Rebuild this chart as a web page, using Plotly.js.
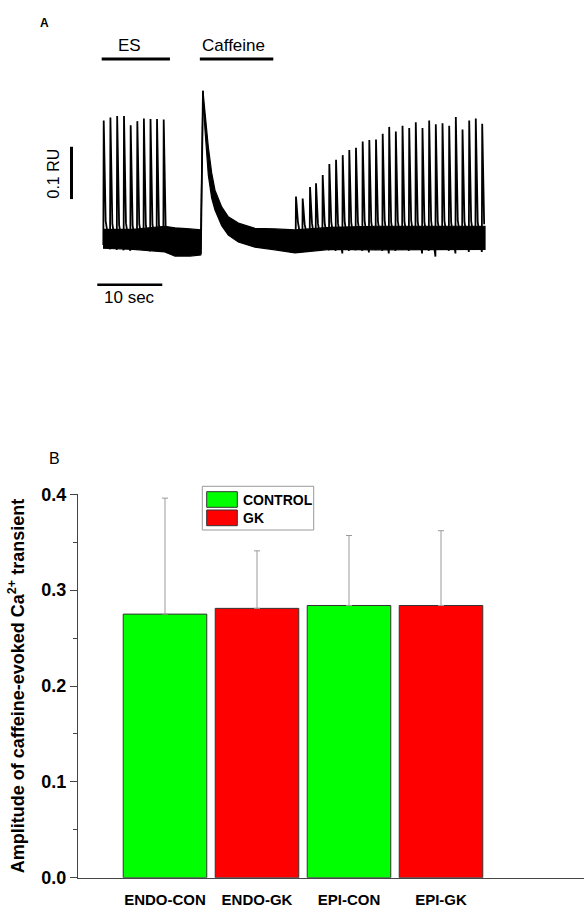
<!DOCTYPE html>
<html><head><meta charset="utf-8">
<script src="https://cdn.plot.ly/plotly-3.0.1.min.js"></script>
<style>html,body{margin:0;padding:0;background:#fff}#chart{width:584px;height:908px}</style>
</head><body><div id="chart"></div>
<script>
// ===== Panel A: Ca2+ trace (time in s, signal in RU) =====
const es1PeakTime = [0.11, 1.14, 2.18, 3.23, 4.26, 5.28, 6.29, 7.31, 8.31, 9.34];
const es1PeakRU = [0.234, 0.240, 0.243, 0.243, 0.225, 0.233, 0.238, 0.237, 0.237, 0.236];
const es1TroughRU = [-0.004, -0.012, -0.013, -0.014, -0.015, -0.013, -0.012, -0.016, -0.014, -0.013];
const es1ShoulderRU = [0.042, 0.036, 0.034, 0.038, 0.033, 0.036, 0.034, 0.035, 0.033, 0.030];

const caffeineRiseTime = [15.05, 15.38];
const caffeineRiseRU = [-0.021, 0.291];

const es2PeakTime = [29.69, 30.72, 31.85, 32.77, 33.80, 34.82, 35.85, 36.88, 37.89, 38.92, 39.95, 40.97, 42.00, 43.03, 44.03, 45.05, 46.08, 47.11, 48.12, 49.15, 50.18, 51.20, 52.23, 53.26, 54.28, 55.31, 56.34, 57.35, 58.34];
const es2PeakRU = [0.089, 0.085, 0.107, 0.114, 0.130, 0.151, 0.159, 0.168, 0.178, 0.182, 0.194, 0.197, 0.198, 0.209, 0.222, 0.213, 0.224, 0.220, 0.231, 0.220, 0.234, 0.227, 0.229, 0.224, 0.241, 0.217, 0.234, 0.238, 0.228];
const es2TroughRU = [-0.004, -0.010, -0.012, -0.010, -0.013, -0.014, -0.015, -0.020, -0.015, -0.014, -0.015, -0.018, -0.013, -0.015, -0.020, -0.015, -0.013, -0.015, -0.013, -0.020, -0.015, -0.026, -0.013, -0.015, -0.020, -0.013, -0.017, -0.013, -0.017];
const es2ShoulderRU = [0.040, 0.036, 0.038, 0.037, 0.039, 0.040, 0.038, 0.041, 0.039, 0.040, 0.042, 0.040, 0.041, 0.043, 0.040, 0.042, 0.041, 0.043, 0.041, 0.040, 0.043, 0.041, 0.042, 0.040, 0.043, 0.041, 0.042, 0.040, 0.036];

// noise band of the recording (upper / lower envelope)
const bandTime = [0, 4.6, 9.5, 11.08, 13.38, 15.05, 15.38, 15.69, 16.20, 16.72, 17.23, 18.26, 19.28, 20.82, 23.38, 26.46, 29.54, 35.0, 42.0, 50.0, 58.77];
const bandHighRU = [0.026, 0.026, 0.032, 0.029, 0.027, 0.025, 0.291, 0.249, 0.184, 0.134, 0.101, 0.069, 0.050, 0.038, 0.028, 0.027, 0.025, 0.030, 0.032, 0.032, 0.032];
const bandLowRU = [-0.010, -0.012, -0.017, -0.025, -0.025, -0.023, 0.283, 0.216, 0.130, 0.086, 0.063, 0.033, 0.015, 0.002, -0.008, -0.013, -0.019, -0.012, -0.013, -0.013, -0.012];

// ===== Panel B: bar chart =====
const categories = ['ENDO-CON', 'ENDO-GK', 'EPI-CON', 'EPI-GK'];
const controlCats = ['ENDO-CON', 'EPI-CON'];
const controlMean = [0.275, 0.284];
const controlErr = [0.121, 0.073];
const gkCats = ['ENDO-GK', 'EPI-GK'];
const gkMean = [0.281, 0.284];
const gkErr = [0.060, 0.078];
const yTicks = [0.0, 0.1, 0.2, 0.3, 0.4];

// ---------- build ----------
const W = 584, H = 908;
const px = x => x / W;
const py = y => 1 - y / H;
const FONT = 'Arial, "Liberation Sans", sans-serif';

function beatPath(peakT, peakV, troughV, shoulderV) {
  const x = [], y = [];
  for (let i = 0; i < peakT.length; i++) {
    x.push(peakT[i] - 0.06, peakT[i], peakT[i] + 0.3);
    y.push(troughV[i], peakV[i], shoulderV[i]);
  }
  return {x, y};
}
const es1 = beatPath(es1PeakTime, es1PeakRU, es1TroughRU, es1ShoulderRU);
const es2 = beatPath(es2PeakTime, es2PeakRU, es2TroughRU, es2ShoulderRU);

const traceLine = {color: '#000', width: 1.8};
const traces = [
  {type: 'scatter', mode: 'lines', xaxis: 'x', yaxis: 'y', name: 'noise',
   x: bandTime.concat(bandTime.slice().reverse()),
   y: bandHighRU.concat(bandLowRU.slice().reverse()),
   fill: 'toself', fillcolor: '#000', line: {color: '#000', width: 1.2},
   showlegend: false, hoverinfo: 'skip'},
  {type: 'scatter', mode: 'lines', xaxis: 'x', yaxis: 'y', name: 'ES 1',
   x: es1.x, y: es1.y, line: traceLine, showlegend: false},
  {type: 'scatter', mode: 'lines', xaxis: 'x', yaxis: 'y', name: 'Caffeine',
   x: caffeineRiseTime, y: caffeineRiseRU, line: traceLine, showlegend: false},
  {type: 'scatter', mode: 'lines', xaxis: 'x', yaxis: 'y', name: 'ES 2',
   x: es2.x, y: es2.y, line: traceLine, showlegend: false},
  {type: 'bar', xaxis: 'x2', yaxis: 'y2', name: 'CONTROL',
   x: controlCats, y: controlMean, width: 0.908,
   marker: {color: '#00ff00', line: {color: '#333', width: 1}},
   error_y: {type: 'data', array: controlErr, arrayminus: controlErr.map(() => 0), symmetric: false,
             color: '#9a9a9a', thickness: 1, width: 3},
   showlegend: false},
  {type: 'bar', xaxis: 'x2', yaxis: 'y2', name: 'GK',
   x: gkCats, y: gkMean, width: 0.908,
   marker: {color: '#ff0000', line: {color: '#333', width: 1}},
   error_y: {type: 'data', array: gkErr, arrayminus: gkErr.map(() => 0), symmetric: false,
             color: '#9a9a9a', thickness: 1, width: 3},
   showlegend: false}
];

// Panel A geometry (pixels -> data)
const ax0 = 103, ay0 = 243, pxPerSec = 6.5, pxPerRU = 523, aBottom = 340;
const barStep = 92, firstBarCenter = 165, plotLeftB = 78;

const layout = {
  width: W, height: H,
  margin: {l: 0, r: 0, t: 0, b: 0},
  paper_bgcolor: '#fff', plot_bgcolor: 'rgba(0,0,0,0)',
  font: {family: FONT, color: '#000'},
  barmode: 'overlay',
  showlegend: false,
  xaxis: {domain: [0, 1], range: [(0 - ax0) / pxPerSec, (W - ax0) / pxPerSec], visible: false, fixedrange: true},
  yaxis: {domain: [py(aBottom), 1], range: [(ay0 - aBottom) / pxPerRU, ay0 / pxPerRU], visible: false, fixedrange: true},
  xaxis2: {domain: [px(plotLeftB), 1], anchor: 'y2',
    type: 'category', categoryorder: 'array', categoryarray: categories,
    range: [(plotLeftB - firstBarCenter) / barStep, (W - firstBarCenter) / barStep],
    showline: true, linecolor: '#444', linewidth: 1, ticks: '', showgrid: false, zeroline: false,
    tickfont: {family: FONT, size: 15, color: '#000', weight: 'bold'}, ticklabelstandoff: 8, fixedrange: true},
  yaxis2: {domain: [py(877.7), py(494.3)], anchor: 'x2', range: [0, 0.4],
    tickvals: yTicks, tickformat: '.1f',
    showline: true, linecolor: '#444', linewidth: 1, ticks: 'outside', ticklen: 7, tickwidth: 1, tickcolor: '#444',
    minor: {dtick: 0.05, tick0: 0, ticks: 'outside', ticklen: 4, tickwidth: 1, tickcolor: '#444', showgrid: false},
    showgrid: false, zeroline: false,
    tickfont: {family: FONT, size: 18, color: '#000', weight: 'bold'},
    title: {text: 'Amplitude of caffeine-evoked Ca<sup>2+</sup> transient', standoff: 12,
            font: {family: FONT, size: 18, color: '#000', weight: 'bold'}},
    fixedrange: true},
  shapes: [
    // ES and Caffeine application bars
    {type: 'line', xref: 'x', yref: 'y', x0: -0.2, x1: 10.3, y0: 0.352, y1: 0.352, line: {color: '#000', width: 3}},
    {type: 'line', xref: 'x', yref: 'y', x0: 14.9, x1: 26.2, y0: 0.352, y1: 0.352, line: {color: '#000', width: 3}},
    // 10 sec scale bar
    {type: 'line', xref: 'x', yref: 'y', x0: -0.88, x1: 9.12, y0: -0.080, y1: -0.080, line: {color: '#000', width: 2.5}},
    // 0.1 RU scale bar
    {type: 'line', xref: 'x', yref: 'y', x0: -4.85, x1: -4.85, y0: 0.084, y1: 0.184, line: {color: '#000', width: 3}},
    // custom legend box & swatches
    {type: 'rect', xref: 'paper', yref: 'paper', x0: px(202.3), x1: px(313.7), y0: py(530), y1: py(486.3),
     line: {color: '#999', width: 1}, fillcolor: '#fff'},
    {type: 'rect', xref: 'paper', yref: 'paper', x0: px(206.7), x1: px(237.3), y0: py(507.3), y1: py(491.7),
     line: {color: '#333', width: 1}, fillcolor: '#00ff00'},
    {type: 'rect', xref: 'paper', yref: 'paper', x0: px(206.7), x1: px(237.3), y0: py(525.7), y1: py(510),
     line: {color: '#333', width: 1}, fillcolor: '#ff0000'}
  ],
  annotations: [
    {text: '<b>A</b>', xref: 'paper', yref: 'paper', x: px(44.7), y: py(22.5), showarrow: false, xanchor: 'center', yanchor: 'middle', font: {size: 12}},
    {text: 'ES', xref: 'paper', yref: 'paper', x: px(129), y: py(45), showarrow: false, xanchor: 'center', yanchor: 'middle', font: {size: 17}},
    {text: 'Caffeine', xref: 'paper', yref: 'paper', x: px(233.5), y: py(45.5), showarrow: false, xanchor: 'center', yanchor: 'middle', font: {size: 17}},
    {text: '0.1 RU', xref: 'paper', yref: 'paper', x: px(52.5), y: py(174), showarrow: false, xanchor: 'center', yanchor: 'middle', textangle: -90, font: {size: 16}},
    {text: '10 sec', xref: 'paper', yref: 'paper', x: px(129), y: py(297), showarrow: false, xanchor: 'center', yanchor: 'middle', font: {size: 17}},
    {text: 'B', xref: 'paper', yref: 'paper', x: px(54.5), y: py(458), showarrow: false, xanchor: 'center', yanchor: 'middle', font: {size: 16}},
    {text: '<b>CONTROL</b>', xref: 'paper', yref: 'paper', x: px(240.5), y: py(499.5), showarrow: false, xanchor: 'left', yanchor: 'middle', font: {size: 14}},
    {text: '<b>GK</b>', xref: 'paper', yref: 'paper', x: px(240.5), y: py(517.8), showarrow: false, xanchor: 'left', yanchor: 'middle', font: {size: 14}}
  ]
};

Plotly.newPlot('chart', traces, layout, {displayModeBar: false, responsive: false});
</script>
</body></html>
